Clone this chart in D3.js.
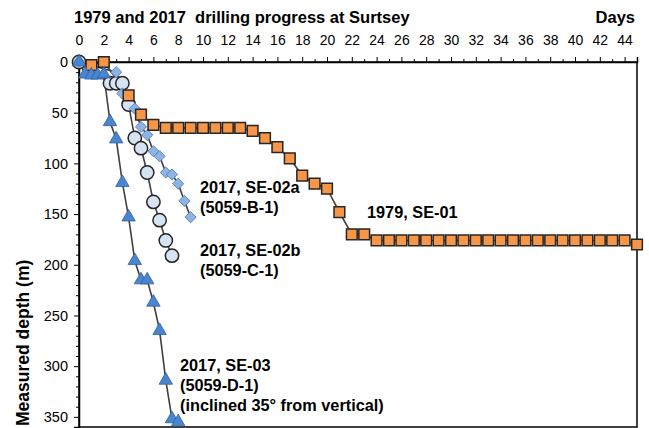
<!DOCTYPE html>
<html>
<head>
<meta charset="utf-8">
<script src="https://cdn.jsdelivr.net/npm/d3@7"></script>
<style>
  body { margin: 0; background: #fff; }
  text { font-family: "Liberation Sans", Arial, sans-serif; }
</style>
</head>
<body>
<div id="chart"></div>
<script>
// drilling progress: [day, measured depth (m)]
const se01 = [[1,3],[2,0],[4,33],[5,52],[6,62],[7,65],[8,65],[9,65],[10,65],[11,65],[12,65],[13,65],
  [14,68],[15,75],[16,84],[17,95],[18,112],[19,120],[20,125],[21,148],[22,170],[23,170],
  [24,176],[25,176],[26,176],[27,176],[28,176],[29,176],[30,176],[31,176],[32,176],[33,176],
  [34,176],[35,176],[36,176],[37,176],[38,176],[39,176],[40,176],[41,176],[42,176],[43,176],
  [44,176],[45,180]];
const se02a = [[0,0],[3,10],[3.5,31],[4.5,46],[5,64],[5.5,72],[6,88],[6.5,93],[7,109],[7.5,111],[8,120],[8.5,137],[9,153]];
const se02b = [[0,0],[2.5,21],[3,21],[3.5,21],[4,42],[4.5,75],[5,85],[5.5,109],[6,138],[6.5,156],[7,176],[7.5,191]];
const se03 = [[0,0],[0.5,12],[1,13],[1.5,13],[2,12],[2.5,59],[3,76],[3.5,119],[4,153],[4.5,196],[5,215],[5.5,215],
  [6,237],[6.5,265],[7,314],[7.5,352],[8,355]];

const xTicks = d3.range(0, 45, 2);
const yTicks = [0, 50, 100, 150, 200, 250, 300, 350];

const margin = { top: 62, right: 12, bottom: 1, left: 79 },
  width = 649 - margin.left - margin.right,
  height = 428 - margin.top - margin.bottom;

const svg = d3.select("#chart")
  .append("svg")
  .attr("width", 649)
  .attr("height", 428)
  .append("g")
  .attr("transform", `translate(${margin.left},${margin.top})`);

const x = d3.scaleLinear().domain([0, 45]).range([0, width]);
const y = d3.scaleLinear().domain([0, 360]).range([0, height]);

// frame
svg.append("rect")
  .attr("width", width).attr("height", height)
  .attr("fill", "none").attr("stroke", "#000").attr("stroke-width", 1.5);

// top axis, minor ticks every day
svg.append("g")
  .call(d3.axisTop(x).tickValues(d3.range(1, 45, 2)).tickSize(3).tickFormat(""))
  .call(g => g.select(".domain").remove());
svg.append("g")
  .call(d3.axisTop(x).tickValues(xTicks.concat([45])).tickSize(5).tickPadding(12)
    .tickFormat(d => d === 45 ? "" : d))
  .call(g => g.select(".domain").attr("stroke-width", 1.5))
  .call(g => g.selectAll("text").attr("font-size", 14).attr("fill", "#000")
    .attr("font-family", "Liberation Sans, Arial, sans-serif"));

// left axis, minor ticks every 10 m
svg.append("g")
  .call(d3.axisLeft(y).tickValues(d3.range(10, 360, 10).filter(v => v % 50)).tickSize(3).tickFormat(""))
  .call(g => g.select(".domain").remove());
svg.append("g")
  .call(d3.axisLeft(y).tickValues(yTicks).tickSize(5).tickPadding(6))
  .call(g => g.select(".domain").attr("stroke-width", 1.5))
  .call(g => g.selectAll("text").attr("font-size", 14.5).attr("fill", "#000")
    .attr("font-family", "Liberation Sans, Arial, sans-serif"));

const line = d3.line().x(d => x(d[0])).y(d => y(d[1]));

const series = [
  { data: se02b, shape: "circle", fill: "#d5e3f3", stroke: "#262626", sw: 1.5 },
  { data: se02a, shape: "diamond", fill: "#8eb4e3", stroke: "#5a80b8", sw: 0.9 },
  { data: se01, shape: "square", fill: "#f79646", stroke: "#262626", sw: 1.5 },
  { data: se03, shape: "triangle", fill: "#4a86d0", stroke: "#2e5e9e", sw: 0.8 }
];

series.forEach(s => {
  svg.append("path")
    .datum(s.data)
    .attr("fill", "none")
    .attr("stroke", "#404040")
    .attr("stroke-width", 1.6)
    .attr("d", line);
});

series.forEach(s => {
  let sym, size, rot = 0;
  if (s.shape === "circle") { sym = d3.symbolCircle; size = 140; }
  if (s.shape === "diamond") { sym = d3.symbolSquare; size = 62; rot = 45; }
  if (s.shape === "square") { sym = d3.symbolSquare; size = 115; }
  if (s.shape === "triangle") { sym = d3.symbolTriangle; size = 78; }
  svg.append("g")
    .selectAll("path")
    .data(s.data)
    .join("path")
    .attr("d", d3.symbol().type(sym).size(size))
    .attr("transform", d => `translate(${x(d[0])},${y(d[1])}) rotate(${rot})`)
    .attr("fill", s.fill)
    .attr("stroke", s.stroke)
    .attr("stroke-width", s.sw);
});

// titles
const root = d3.select("svg");
root.append("text")
  .attr("x", 74).attr("y", 23)
  .attr("font-size", 16.5).attr("font-weight", "bold")
  .attr("xml:space", "preserve")
  .text("1979 and 2017  drilling progress at Surtsey");
root.append("text")
  .attr("x", 635).attr("y", 23)
  .attr("text-anchor", "end")
  .attr("font-size", 16.5).attr("font-weight", "bold")
  .text("Days");
root.append("text")
  .attr("transform", "translate(29,426) rotate(-90)")
  .attr("font-size", 17.5).attr("font-weight", "bold")
  .text("Measured depth (m)");

// series labels
const labels = [
  { x: 200, y: 193, lines: ["2017, SE-02a", "(5059-B-1)"] },
  { x: 367, y: 218, lines: ["1979, SE-01"] },
  { x: 200, y: 256, lines: ["2017, SE-02b", "(5059-C-1)"] },
  { x: 180, y: 371, lines: ["2017, SE-03", "(5059-D-1)", "(inclined 35° from vertical)"] }
];
labels.forEach(l => {
  const t = root.append("text")
    .attr("x", l.x).attr("y", l.y)
    .attr("font-size", 16.3).attr("font-weight", "bold");
  l.lines.forEach((s, i) => {
    t.append("tspan").attr("x", l.x).attr("dy", i === 0 ? 0 : 20).text(s);
  });
});
</script>
</body>
</html>
